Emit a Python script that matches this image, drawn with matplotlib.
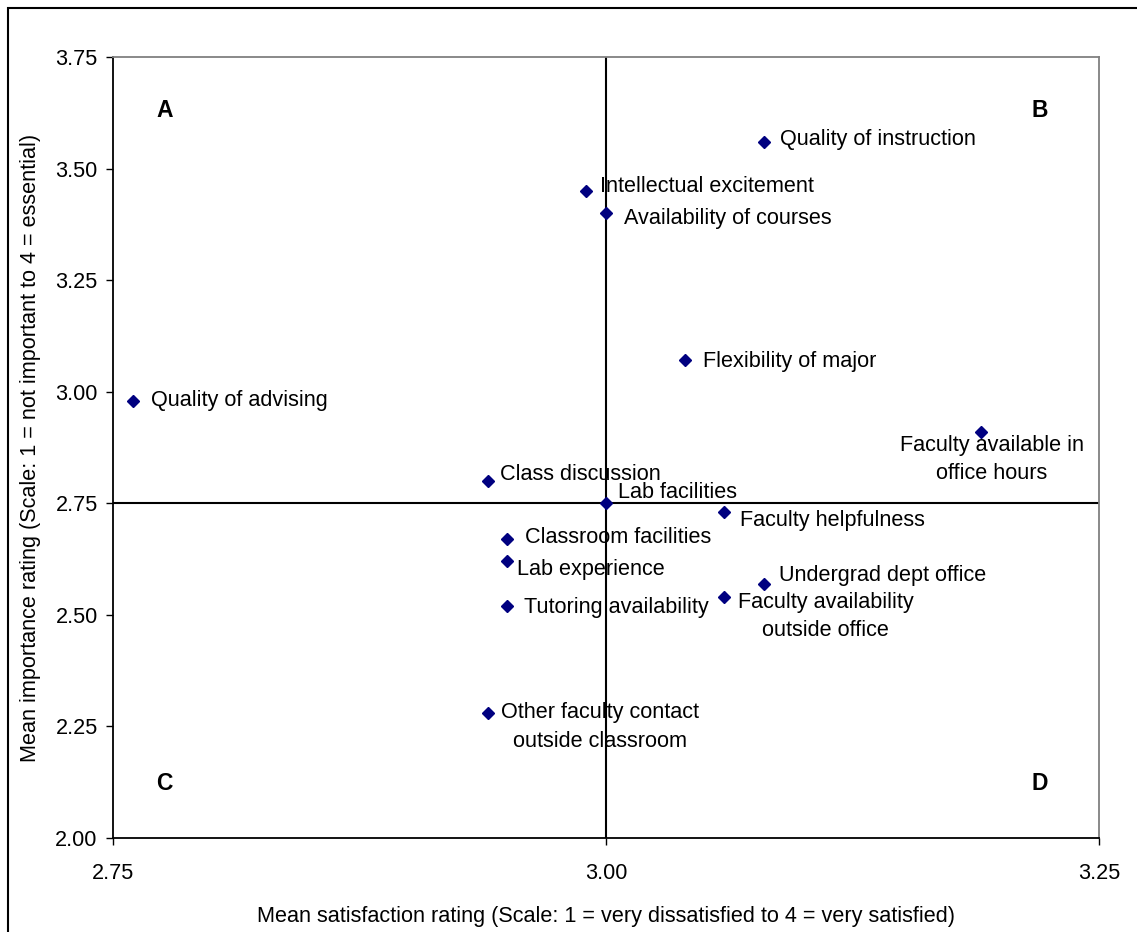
import matplotlib
matplotlib.use("Agg")
import matplotlib.pyplot as plt
from matplotlib.patches import Rectangle

plt.rcParams['font.family'] = ['Liberation Sans', 'DejaVu Sans']

# satisfaction (x) vs importance (y)
items = ['Quality of instruction', 'Intellectual excitement', 'Availability of courses',
         'Flexibility of major', 'Quality of advising', 'Faculty available in\noffice hours',
         'Class discussion', 'Lab facilities', 'Faculty helpfulness', 'Classroom facilities',
         'Lab experience', 'Undergrad dept office', 'Faculty availability\noutside office',
         'Tutoring availability', 'Other faculty contact\noutside classroom']
satisfaction = [3.08, 2.99, 3.00, 3.04, 2.76, 3.19, 2.94, 3.00, 3.06, 2.95, 2.95, 3.08, 3.06, 2.95, 2.94]
importance = [3.56, 3.45, 3.40, 3.07, 2.98, 2.91, 2.80, 2.75, 2.73, 2.67, 2.62, 2.57, 2.54, 2.52, 2.28]

# label offsets in points (dx, dy) and alignment
offsets = [(12, 2, 'left'), (10, 3, 'left'), (13, -4, 'left'), (13, -1, 'left'), (13, 0, 'left'),
           (8, -20, 'center'), (9, 5, 'left'), (9, 8, 'left'), (11, -6, 'left'), (13, 1, 'left'),
           (7, -6, 'left'), (11, 6, 'left'), (73, -14, 'center'), (12, -1, 'left'), (81, -10, 'center')]

x_mid = 3.00
y_mid = 2.75
fs = 15.6

fig = plt.figure(figsize=(11.37, 9.32), dpi=100)
ax = fig.add_axes([113/1137, 1 - 838/932, (1099-113)/1137, (838-57)/932])

ax.axvline(x_mid, color='black', lw=1.5, zorder=1)
ax.axhline(y_mid, color='black', lw=1.5, zorder=1)

ax.plot(satisfaction, importance, 'D', color='#000080', markersize=6.6, linestyle='none', zorder=3)

for name, x, y, (dx, dy, ha) in zip(items, satisfaction, importance, offsets):
    ax.annotate(name, (x, y), xytext=(dx, dy), textcoords='offset points',
                ha=ha, va='center', fontsize=fs, multialignment='center',
                linespacing=1.45, zorder=2)

for letter, px, py in [('A', 0.052, 0.932), ('B', 0.94, 0.932), ('C', 0.052, 0.07), ('D', 0.94, 0.07)]:
    ax.text(px, py, letter, transform=ax.transAxes, fontsize=16.5, fontweight='bold',
            ha='center', va='center')

ax.set_xlim(2.75, 3.25)
ax.set_ylim(2.00, 3.75)
ax.set_xticks([2.75, 3.00, 3.25])
ax.set_yticks([2.00, 2.25, 2.50, 2.75, 3.00, 3.25, 3.50, 3.75])
ax.xaxis.set_major_formatter(matplotlib.ticker.FormatStrFormatter('%.2f'))
ax.yaxis.set_major_formatter(matplotlib.ticker.FormatStrFormatter('%.2f'))
ax.tick_params(axis='x', length=5, width=1, pad=13, labelsize=fs)
ax.tick_params(axis='y', length=5, width=1, pad=6, labelsize=fs)

ax.spines['left'].set_color('black')
ax.spines['bottom'].set_color('black')
ax.spines['left'].set_linewidth(1.3)
ax.spines['bottom'].set_linewidth(1.3)
ax.spines['top'].set_color('#808080')
ax.spines['right'].set_color('#808080')
ax.spines['top'].set_linewidth(1.3)
ax.spines['right'].set_linewidth(1.3)

ax.set_xlabel('Mean satisfaction rating (Scale: 1 = very dissatisfied to 4 = very satisfied)',
              fontsize=fs, labelpad=16)
ax.set_ylabel('Mean importance rating (Scale: 1 = not important to 4 = essential)',
              fontsize=fs, labelpad=10)

fig.patches.append(Rectangle((8/1137, -0.01), 1.2, 1 - 8/932 + 0.01, transform=fig.transFigure,
                             fill=False, edgecolor='black', lw=1.5))

fig.savefig('out.png', dpi=100)
